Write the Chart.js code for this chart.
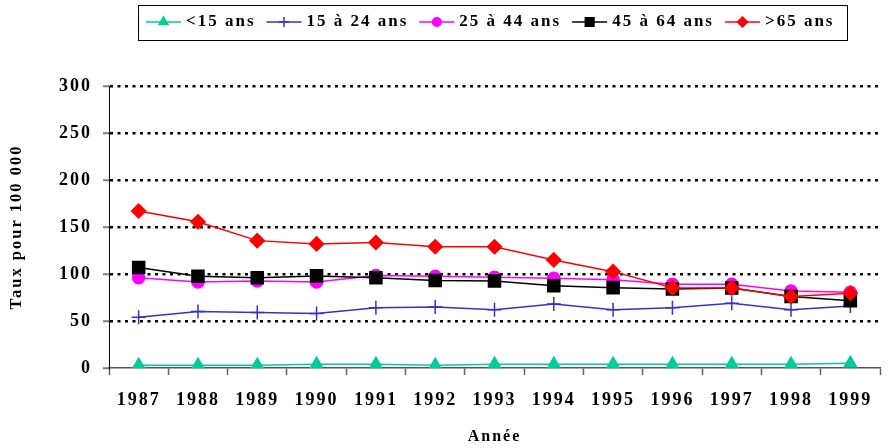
<!DOCTYPE html>
<html>
<head>
<meta charset="utf-8">
<script src="https://cdn.jsdelivr.net/npm/chart.js@4"></script>
<style>
  html, body { margin: 0; padding: 0; background: #fff; }
  #wrap { width: 890px; height: 448px; }
</style>
</head>
<body>
<div id="wrap"><canvas id="tauxChart" width="890" height="448"></canvas></div>
<script>
// Data
const years = ['1987', '1988', '1989', '1990', '1991', '1992', '1993', '1994', '1995', '1996', '1997', '1998', '1999'];
const moins15 = [3, 3, 3, 4, 4, 3, 4, 4, 4, 4, 4, 4, 5];
const de15a24 = [54, 60, 59, 58, 64, 65, 62, 68, 62, 64, 69, 62, 66];
const de25a44 = [96, 91.5, 92.5, 91.5, 98.5, 97.5, 96.5, 95.5, 94, 89, 89, 82, 80.5];
const de45a64 = [107, 97.5, 96, 98, 96, 93, 92.5, 87.5, 85.5, 84, 85, 76, 71.5];
const plus65 = [167, 155.5, 135.5, 132, 133.5, 129, 129, 115, 102.5, 85.5, 85, 76, 79.5];
const yTicks = [0, 50, 100, 150, 200, 250, 300];

const seriesLabels = ['<15 ans', '15 à 24 ans', '25 à 44 ans', '45 à 64 ans', '>65 ans'];
const seriesData = [moins15, de15a24, de25a44, de45a64, plus65];
const seriesColors = ['#00CC99', '#3333CC', '#FF00FF', '#000000', '#FF0000'];
const seriesStyles = ['triangle', 'cross', 'circle', 'rect', 'rectRot'];
const seriesRadius = [7, 7, 6, 8.5, 7];

const SERIF = "'Liberation Serif', 'Times New Roman', serif";
const SPACING = '2px';

// letter spacing like the original (context state gets reset on resize)
const spacingPlugin = {
    id: 'spacing',
    beforeUpdate(chart) { chart.ctx.letterSpacing = SPACING; },
    beforeDraw(chart) { chart.ctx.letterSpacing = SPACING; }
};

// Legend box at the top, line + marker then label
const boxLegend = {
    id: 'boxLegend',
    afterDraw(chart) {
        const ctx = chart.ctx;
        ctx.save();
        ctx.letterSpacing = SPACING;
        ctx.strokeStyle = '#000';
        ctx.lineWidth = 1;
        ctx.strokeRect(138.5, 5.5, 709, 35);
        ctx.font = 'bold 17px ' + SERIF;
        ctx.textBaseline = 'middle';
        ctx.fillStyle = '#000';
        let x = 146;
        const y = 22;
        chart.data.datasets.forEach((ds, i) => {
            ctx.strokeStyle = ds.borderColor;
            ctx.lineWidth = 1.5;
            ctx.beginPath();
            ctx.moveTo(x, y);
            ctx.lineTo(x + 35, y);
            ctx.stroke();
            if (Chart.helpers && Chart.helpers.drawPoint) {
                ctx.fillStyle = ds.pointBackgroundColor;
                ctx.strokeStyle = ds.borderColor;
                ctx.lineWidth = 1.5;
                Chart.helpers.drawPoint(ctx, {
                    pointStyle: ds.pointStyle,
                    radius: ds.pointRadius * 0.72,
                    borderWidth: 1.5,
                    rotation: 0
                }, x + 17.5, y);
            }
            ctx.fillStyle = '#000';
            const label = ds.label;
            ctx.fillText(label, x + 40, y);
            x += 40 + ctx.measureText(label).width + 11;
        });
        ctx.restore();
    }
};

const datasets = seriesLabels.map((label, i) => ({
    label: label,
    data: seriesData[i],
    borderColor: seriesColors[i],
    backgroundColor: seriesColors[i],
    pointBackgroundColor: seriesColors[i],
    pointBorderColor: seriesColors[i],
    pointStyle: seriesStyles[i],
    pointRadius: seriesRadius[i],
    pointBorderWidth: 1.5,
    borderWidth: 1.5,
    tension: 0,
    fill: false,
    order: seriesLabels.length - i
}));

const ctx = document.getElementById('tauxChart');
new Chart(ctx, {
    type: 'line',
    data: { labels: years, datasets: datasets },
    plugins: [spacingPlugin, boxLegend],
    options: {
        responsive: false,
        animation: false,
        layout: { padding: { top: 86, right: 5, left: 0, bottom: 0 } },
        plugins: {
            legend: { display: false },
            tooltip: { enabled: false }
        },
        scales: {
            x: {
                type: 'category',
                offset: true,
                grid: {
                    offset: true,
                    drawOnChartArea: false,
                    tickLength: 7,
                    tickColor: '#606060',
                    tickWidth: 1.5
                },
                border: { color: '#555', width: 1.5 },
                ticks: {
                    color: '#000',
                    font: { family: SERIF, size: 18, weight: 'bold' },
                    padding: 15,
                    maxRotation: 0,
                    autoSkip: false
                },
                title: {
                    display: true,
                    text: 'Année',
                    color: '#000',
                    font: { family: SERIF, size: 16, weight: 'bold' },
                    padding: { top: 0, bottom: 2 }
                },
                afterFit(scale) { scale.height = 80; }
            },
            y: {
                min: 0,
                max: 300,
                afterBuildTicks(scale) { scale.ticks = yTicks.map(v => ({ value: v })); },
                grid: {
                    color: c => (c.tick && c.tick.value === 0) ? 'rgba(0,0,0,0)' : '#000',
                    lineWidth: 2.5,
                    borderDash: [3, 4.5],
                    tickColor: '#808080',
                    tickLength: 6,
                    tickWidth: 2,
                    tickBorderDash: []
                },
                border: { color: '#000', width: 1, dash: [3, 4.5] },
                ticks: {
                    color: '#000',
                    font: { family: SERIF, size: 18, weight: 'bold' },
                    padding: 11
                },
                title: {
                    display: true,
                    text: 'Taux pour 100 000',
                    color: '#000',
                    font: { family: SERIF, size: 16.5, weight: 'bold' },
                    padding: { top: 7, bottom: 0 }
                },
                afterFit(scale) { scale.width = 109; }
            }
        }
    }
});
</script>
</body>
</html>
